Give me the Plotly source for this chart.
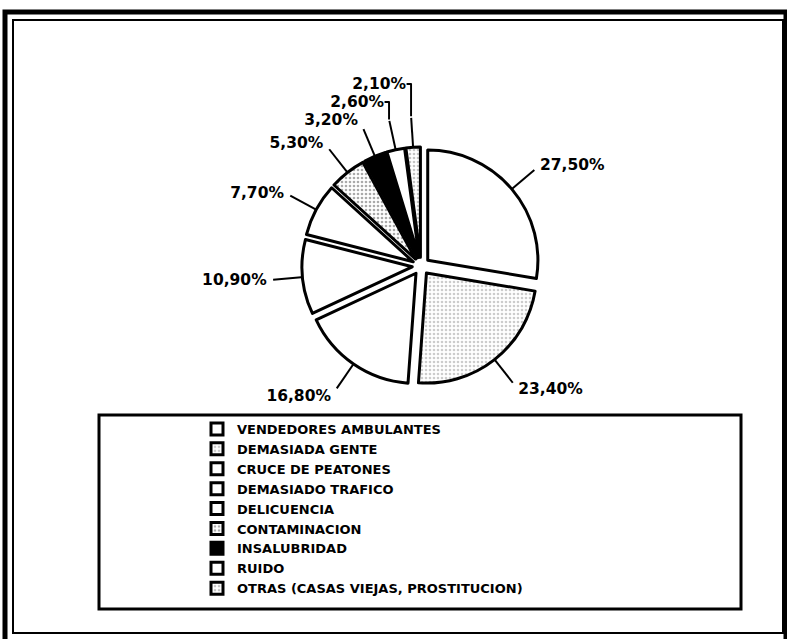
import plotly.graph_objects as go

# Datos (porcentajes)
categorias = [
    "VENDEDORES AMBULANTES",
    "DEMASIADA GENTE",
    "CRUCE DE PEATONES",
    "DEMASIADO TRAFICO",
    "DELICUENCIA",
    "CONTAMINACION",
    "INSALUBRIDAD",
    "RUIDO",
    "OTRAS (CASAS VIEJAS, PROSTITUCION)",
]
porcentajes = [27.5, 23.4, 16.8, 10.9, 7.7, 5.3, 3.2, 2.6, 2.1]

# rellenos en blanco y negro, como el original
colores = ["white", "white", "white", "white", "white", "white", "black", "white", "white"]
patrones = ["", ".", "", "", "", ".", "", "", "."]
patron_fg = ["black", "#9a9a9a", "black", "black", "black", "#555555", "black", "black", "#8a8a8a"]

W, H = 787, 639
CX, CY = 421, 266      # centro de la torta (px)
R_PIE = 119            # radio con el desplazamiento incluido
R_LBL = 150            # radio donde van las etiquetas

def px(x):
    return x / W

def py(y):
    return 1 - y / H

# angulo medio de cada porcion, para las lineas guia
total = sum(porcentajes)
acum = 0
theta = []
r_lin = []
for v in porcentajes:
    mid = (acum + v / 2) / total * 360
    acum += v
    theta += [mid, mid, None]
    r_lin += [R_PIE / R_LBL - 0.01, 0.99, None]

fig = go.Figure()

# torta "fantasma" solo para ubicar las etiquetas mas afuera
fig.add_trace(go.Pie(
    labels=categorias,
    values=porcentajes,
    sort=False,
    direction="clockwise",
    rotation=0,
    textposition="outside",
    texttemplate="<b>%{value:.2f}%</b>",
    textfont=dict(family="DejaVu Sans", size=15.5, color="black"),
    marker=dict(colors=["rgba(0,0,0,0)"] * len(categorias),
                line=dict(color="rgba(0,0,0,0)", width=0)),
    domain=dict(x=[px(CX - R_LBL), px(CX + R_LBL)], y=[py(CY + R_LBL), py(CY - R_LBL)]),
    showlegend=False,
    hoverinfo="skip",
))

fig.add_trace(go.Pie(
    labels=categorias,
    values=porcentajes,
    sort=False,
    direction="clockwise",
    rotation=0,
    pull=0.08,
    textinfo="none",
    marker=dict(
        colors=colores,
        line=dict(color="black", width=3),
        pattern=dict(shape=patrones, fgcolor=patron_fg, size=4, solidity=0.35,
                     fillmode="overlay"),
    ),
    domain=dict(x=[px(CX - R_PIE), px(CX + R_PIE)], y=[py(CY + R_PIE), py(CY - R_PIE)]),
    hoverinfo="label+value",
))

# lineas guia de las etiquetas
fig.add_trace(go.Scatterpolar(
    r=r_lin, theta=theta, mode="lines",
    line=dict(color="black", width=2),
    showlegend=False, hoverinfo="skip",
))

fig.update_layout(
    width=W, height=H,
    margin=dict(l=0, r=0, t=0, b=0),
    paper_bgcolor="white",
    separators=",.",
    showlegend=True,
    polar=dict(
        domain=dict(x=[px(CX - R_LBL), px(CX + R_LBL)], y=[py(CY + R_LBL), py(CY - R_LBL)]),
        bgcolor="rgba(0,0,0,0)",
        radialaxis=dict(visible=False, range=[0, 1]),
        angularaxis=dict(visible=False, rotation=90, direction="clockwise"),
    ),
    legend=dict(
        x=px(197), y=py(414), xanchor="left", yanchor="top",
        font=dict(family="DejaVu Sans", size=13, color="black", weight="bold"),
        bgcolor="rgba(0,0,0,0)",
        itemclick=False,
    ),
    shapes=[
        # marco exterior grueso
        dict(type="rect", xref="paper", yref="paper",
             x0=px(5), x1=px(786), y0=py(642), y1=py(12),
             line=dict(color="black", width=5)),
        # marco interior fino
        dict(type="rect", xref="paper", yref="paper",
             x0=px(13), x1=px(783), y0=py(633), y1=py(20),
             line=dict(color="black", width=2)),
        # caja de la leyenda
        dict(type="rect", xref="paper", yref="paper",
             x0=px(99), x1=px(741), y0=py(609), y1=py(415),
             line=dict(color="black", width=3)),
    ],
)

fig.write_html("out.html", config={"displayModeBar": False},
               post_script="document.body.style.margin='0px';")
